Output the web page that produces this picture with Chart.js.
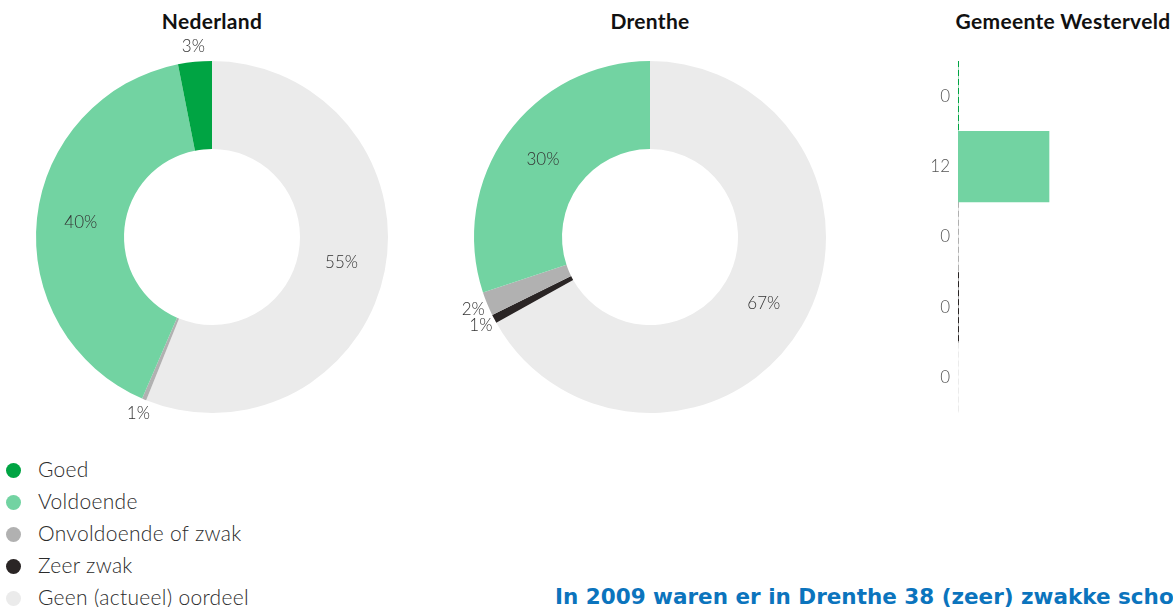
<!DOCTYPE html>
<html>
<head>
<meta charset="utf-8">
<script src="https://cdn.jsdelivr.net/npm/chart.js@4"></script>
<style>
  html, body { margin: 0; padding: 0; background: #fff; }
  body { width: 1173px; height: 607px; position: relative; overflow: hidden; font-family: Lato, "Open Sans", sans-serif; }
  .title { position: absolute; top: 8px; font-size: 21px; font-weight: 700; color: #111; transform: translateX(-50%); white-space: nowrap; letter-spacing: 0.3px; }
  .box { position: absolute; }
  canvas { display: block; }
  #legend { position: absolute; left: 6px; top: 454px; }
  .item { height: 32px; line-height: 30px; font-size: 21px; font-weight: 300; color: #2b2b2b; white-space: nowrap; letter-spacing: 0.3px; }
  .dot { display: inline-block; width: 15px; height: 15px; border-radius: 50%; margin-right: 17px; vertical-align: -1px; }
  #note { position: absolute; left: 555px; top: 584px; right: 0; overflow: hidden; white-space: nowrap; font-family: "DejaVu Sans", sans-serif; font-size: 21.5px; font-weight: 700; color: #0b74bd; }
</style>
</head>
<body>
<div class="title" style="left:212px">Nederland</div>
<div class="title" style="left:650px">Drenthe</div>
<div class="title" style="left:1063px">Gemeente Westerveld</div>

<div class="box" style="left:12px;top:37px"><canvas id="nl" width="400" height="400"></canvas></div>
<div class="box" style="left:450px;top:37px"><canvas id="dr" width="400" height="400"></canvas></div>
<div class="box" style="left:900px;top:45px"><canvas id="wv" width="273" height="387"></canvas></div>

<div id="legend"></div>
<div id="note">In 2009 waren er in Drenthe 38 (zeer) zwakke scho</div>

<script>
const categories = ['Goed', 'Voldoende', 'Onvoldoende of zwak', 'Zeer zwak', 'Geen (actueel) oordeel'];
const colors = ['#00a443', '#72d3a2', '#b1b1b1', '#2a2525', '#ebebeb'];

// share of schools per judgement (angles), and the printed labels
const nederlandValues = [3.1, 40.4, 0.4, 0, 56.1];
const nederlandLabels = ['3%', '40%', '1%', '', '55%'];
const drentheValues = [0, 30.1, 2.2, 0.8, 66.9];
const drentheLabels = ['', '30%', '2%', '1%', '67%'];
const westerveldValues = [0, 12, 0, 0, 0];

// legend
const legend = document.getElementById('legend');
categories.forEach((c, i) => {
    const row = document.createElement('div');
    row.className = 'item';
    row.innerHTML = '<span class="dot" style="background:' + colors[i] + '"></span>' + c;
    legend.appendChild(row);
});

// labels: big slices inside the ring, small ones just outside
const sliceLabels = {
    id: 'sliceLabels',
    afterDatasetsDraw(chart, args, opts) {
        const ctx = chart.ctx;
        const meta = chart.getDatasetMeta(0);
        const values = chart.data.datasets[0].data;
        ctx.save();
        ctx.font = '300 17px Lato, sans-serif';
        ctx.fillStyle = '#333';
        ctx.textAlign = 'center';
        ctx.textBaseline = 'middle';
        meta.data.forEach((arc, i) => {
            const text = opts.labels[i];
            if (!text) return;
            const a = (arc.startAngle + arc.endAngle) / 2;
            const r = values[i] < 5 ? arc.outerRadius + 15 : (arc.innerRadius + arc.outerRadius) / 2;
            ctx.fillText(text, arc.x + Math.cos(a) * r, arc.y + Math.sin(a) * r);
        });
        ctx.restore();
    }
};

function donut(id, values, labels) {
    // drawn clockwise from the top, so the order is reversed
    new Chart(document.getElementById(id), {
        type: 'doughnut',
        data: {
            labels: categories.slice().reverse(),
            datasets: [{
                data: values.slice().reverse(),
                backgroundColor: colors.slice().reverse(),
                borderWidth: 0,
                hoverOffset: 0
            }]
        },
        options: {
            responsive: false,
            animation: false,
            events: [],
            cutout: '50%',
            layout: { padding: 24 },
            plugins: {
                legend: { display: false },
                tooltip: { enabled: false },
                sliceLabels: { labels: labels.slice().reverse() }
            }
        },
        plugins: [sliceLabels]
    });
}

donut('nl', nederlandValues, nederlandLabels);
donut('dr', drentheValues, drentheLabels);

// dashed base line per category on the bar chart
const dashedBase = {
    id: 'dashedBase',
    beforeDatasetsDraw(chart) {
        const ctx = chart.ctx;
        const x = chart.scales.x.getPixelForValue(0) + 0.5;
        const y = chart.scales.y;
        const band = (y.bottom - y.top) / categories.length;
        ctx.save();
        ctx.lineWidth = 1;
        ctx.setLineDash([6, 3]);
        categories.forEach((c, i) => {
            const mid = y.getPixelForValue(i);
            ctx.strokeStyle = colors[i];
            ctx.beginPath();
            ctx.moveTo(x, mid - band / 2);
            ctx.lineTo(x, mid + band / 2);
            ctx.stroke();
        });
        ctx.restore();
    }
};

new Chart(document.getElementById('wv'), {
    type: 'bar',
    data: {
        labels: categories,
        datasets: [{
            data: westerveldValues,
            backgroundColor: colors,
            barPercentage: 1,
            categoryPercentage: 1,
            borderWidth: 0
        }]
    },
    options: {
        indexAxis: 'y',
        responsive: false,
        animation: false,
        events: [],
        layout: { padding: { top: 16, bottom: 19, right: 33, left: 0 } },
        scales: {
            x: { display: false, min: 0, max: 24 },
            y: {
                grid: { display: false },
                border: { display: false },
                afterFit(scale) { scale.width = 58; },
                ticks: {
                    padding: 0,
                    color: '#555',
                    font: { family: 'Lato', size: 17, weight: '300' },
                    callback: (v, i) => westerveldValues[i]
                }
            }
        },
        plugins: { legend: { display: false }, tooltip: { enabled: false } }
    },
    plugins: [dashedBase]
});
</script>
</body>
</html>
